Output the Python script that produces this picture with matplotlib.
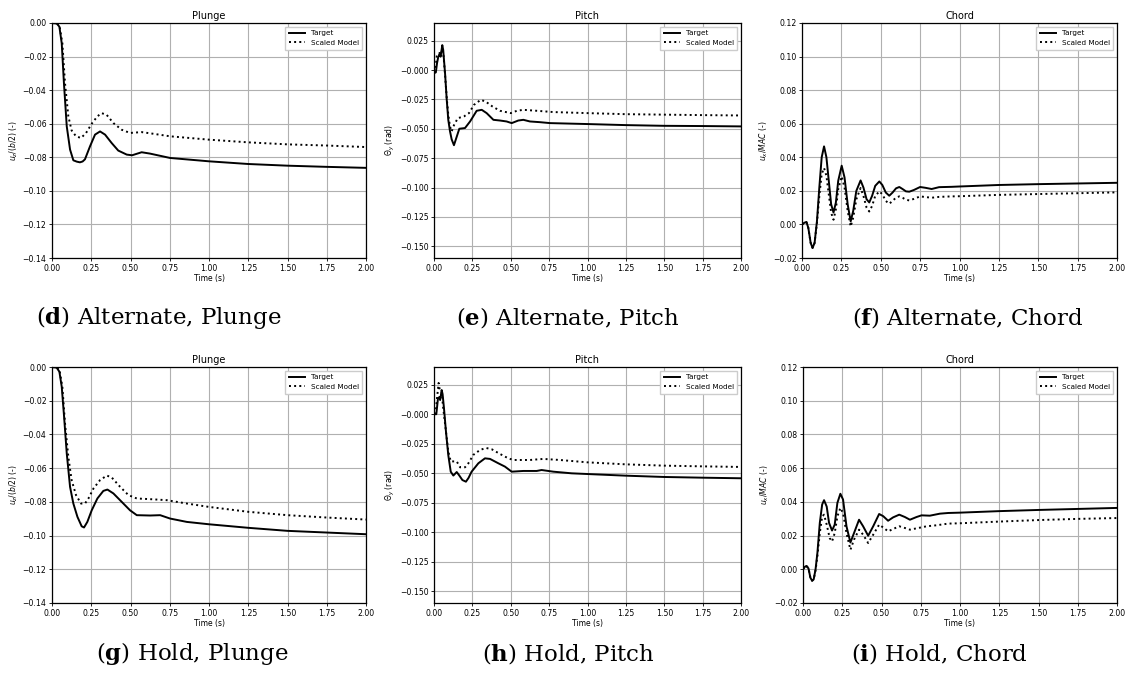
import numpy as np
import matplotlib
matplotlib.use("Agg")
import matplotlib.pyplot as plt

## Datos

tiempo_ticks = [0.0, 0.25, 0.5, 0.75, 1.0, 1.25, 1.5, 1.75, 2.0]
leyenda = ["Target", "Scaled Model"]

# (d) Alternate, Plunge
t_d_target = [0.0, 0.03, 0.047, 0.062, 0.076, 0.094, 0.115, 0.136, 0.158, 0.178, 0.195, 0.21, 0.242, 0.274,
              0.306, 0.338, 0.38, 0.422, 0.476, 0.51, 0.571, 0.624, 0.752, 1.0, 1.25, 1.5, 1.75, 2.0]
d_target = [0.0, -0.0003, -0.0022, -0.0121, -0.0358, -0.0616, -0.0754, -0.0818, -0.0826, -0.083, -0.0825,
            -0.0812, -0.0735, -0.0665, -0.0646, -0.0665, -0.0715, -0.076, -0.0784, -0.0788, -0.077, -0.0778,
            -0.0804, -0.0824, -0.084, -0.085, -0.0857, -0.0863]
t_d_model = [0.0, 0.03, 0.047, 0.066, 0.083, 0.104, 0.125, 0.153, 0.185, 0.217, 0.253, 0.289, 0.316, 0.348,
             0.391, 0.444, 0.497, 0.571, 0.646, 0.752, 1.0, 1.25, 1.5, 1.75, 2.0]
d_model = [0.0, -0.0002, -0.0012, -0.012, -0.036, -0.0556, -0.064, -0.0675, -0.0685, -0.0655, -0.06, -0.0556,
           -0.0537, -0.0547, -0.0596, -0.0636, -0.0655, -0.065, -0.066, -0.0675, -0.0695, -0.0711, -0.0723,
           -0.073, -0.0739]

# (e) Alternate, Pitch
t_e_target = [0.004, 0.012, 0.02, 0.028, 0.037, 0.043, 0.054, 0.06, 0.072, 0.083, 0.093, 0.104, 0.115, 0.13,
              0.145, 0.165, 0.202, 0.235, 0.278, 0.311, 0.343, 0.387, 0.43, 0.473, 0.506, 0.549, 0.582, 0.625,
              0.69, 0.756, 1.0, 1.25, 1.5, 1.75, 2.0]
e_target = [-0.0025, -0.002, 0.006, 0.0113, 0.014, 0.0113, 0.0212, 0.017, -0.0028, -0.0254, -0.0424, -0.052,
            -0.059, -0.064, -0.058, -0.050, -0.0494, -0.0438, -0.0347, -0.0339, -0.0367, -0.0424, -0.043,
            -0.0438, -0.0452, -0.043, -0.0424, -0.0438, -0.0444, -0.0452, -0.046, -0.0469, -0.0475, -0.0477,
            -0.048]
t_e_model = [0.004, 0.012, 0.018, 0.028, 0.037, 0.045, 0.054, 0.062, 0.072, 0.083, 0.093, 0.104, 0.115, 0.13,
             0.155, 0.195, 0.228, 0.26, 0.304, 0.336, 0.38, 0.43, 0.5, 0.54, 0.582, 0.669, 0.777, 1.0, 1.25,
             1.5, 1.75, 2.0]
e_model = [-0.0025, 0.004, 0.012, 0.014, 0.0145, 0.013, 0.018, 0.012, -0.004, -0.024, -0.038, -0.048, -0.0523,
           -0.047, -0.041, -0.0395, -0.0367, -0.0297, -0.0254, -0.0268, -0.031, -0.0347, -0.0367, -0.0347,
           -0.0339, -0.0347, -0.0358, -0.0367, -0.0376, -0.038, -0.0384, -0.0387]

# (f) Alternate, Chord
t_f = [0.0, 0.015, 0.028, 0.04, 0.055, 0.067, 0.08, 0.095, 0.11, 0.125, 0.14, 0.155, 0.17, 0.185, 0.2, 0.215,
       0.23, 0.252, 0.27, 0.29, 0.309, 0.325, 0.345, 0.372, 0.39, 0.41, 0.427, 0.445, 0.465, 0.491, 0.51, 0.532,
       0.554, 0.575, 0.597, 0.618, 0.64, 0.66, 0.681, 0.71, 0.75, 0.785, 0.823, 0.87, 0.95, 1.0, 1.25, 1.5,
       1.75, 2.0]
f_target = [0.0, 0.001, 0.0015, -0.002, -0.011, -0.014, -0.011, 0.002, 0.022, 0.040, 0.0465, 0.040, 0.026,
            0.012, 0.0071, 0.013, 0.026, 0.035, 0.028, 0.012, 0.0018, 0.008, 0.020, 0.0262, 0.022, 0.015,
            0.0131, 0.017, 0.023, 0.0256, 0.0235, 0.019, 0.0171, 0.019, 0.0215, 0.0223, 0.021, 0.0197, 0.0195,
            0.0205, 0.0223, 0.0218, 0.0211, 0.0222, 0.0224, 0.0226, 0.0235, 0.024, 0.0244, 0.0248]
f_model = [0.0, 0.001, 0.0015, -0.002, -0.011, -0.014, -0.011, 0.001, 0.017, 0.030, 0.0336, 0.029, 0.018,
           0.007, 0.0028, 0.009, 0.021, 0.0286, 0.022, 0.008, -0.0012, 0.004, 0.015, 0.0217, 0.017, 0.010,
           0.0077, 0.011, 0.017, 0.0197, 0.018, 0.014, 0.0123, 0.014, 0.016, 0.0167, 0.0158, 0.0147, 0.0143,
           0.0152, 0.0167, 0.0163, 0.0159, 0.0164, 0.0167, 0.0168, 0.0176, 0.0181, 0.0186, 0.0191]

# (g) Hold, Plunge
t_g_target = [0.0, 0.03, 0.047, 0.062, 0.077, 0.094, 0.115, 0.136, 0.162, 0.189, 0.204, 0.225, 0.253, 0.289,
              0.327, 0.353, 0.391, 0.444, 0.497, 0.54, 0.625, 0.689, 0.752, 0.859, 1.0, 1.25, 1.5, 1.75, 2.0]
g_target = [0.0, -0.0004, -0.0028, -0.0117, -0.0295, -0.0513, -0.0711, -0.081, -0.0889, -0.0945, -0.0952,
            -0.0919, -0.085, -0.078, -0.0735, -0.0727, -0.075, -0.08, -0.085, -0.0879, -0.0881, -0.0879,
            -0.0899, -0.0919, -0.0933, -0.0954, -0.0972, -0.0982, -0.0992]
t_g_model = [0.0, 0.03, 0.047, 0.066, 0.083, 0.104, 0.125, 0.153, 0.185, 0.21, 0.232, 0.264, 0.306, 0.349,
             0.38, 0.434, 0.487, 0.54, 0.625, 0.731, 0.859, 1.0, 1.25, 1.5, 1.75, 2.0]
g_model = [0.0, -0.0003, -0.0014, -0.0117, -0.0335, -0.0533, -0.0671, -0.076, -0.081, -0.081, -0.078,
           -0.0721, -0.0671, -0.0644, -0.0655, -0.0711, -0.076, -0.078, -0.0784, -0.079, -0.081, -0.083,
           -0.0859, -0.0879, -0.0893, -0.0905]

# (h) Hold, Pitch
t_h_target = [0.004, 0.015, 0.02, 0.026, 0.035, 0.04, 0.05, 0.056, 0.065, 0.078, 0.093, 0.109, 0.126, 0.137,
              0.148, 0.165, 0.185, 0.208, 0.225, 0.245, 0.289, 0.332, 0.365, 0.419, 0.462, 0.506, 0.582, 0.669,
              0.701, 0.777, 0.897, 1.0, 1.25, 1.5, 1.75, 2.0]
h_target = [0.0, 0.0, 0.006, 0.0135, 0.0145, 0.012, 0.0205, 0.017, 0.0051, -0.0148, -0.0346, -0.0487, -0.052,
            -0.0505, -0.049, -0.052, -0.0558, -0.0572, -0.054, -0.0487, -0.0416, -0.0374, -0.0379, -0.0416,
            -0.0444, -0.0487, -0.0481, -0.0481, -0.0473, -0.0487, -0.0501, -0.0507, -0.0521, -0.0532, -0.0538,
            -0.0543]
t_h_model = [0.004, 0.012, 0.02, 0.03, 0.037, 0.045, 0.05, 0.058, 0.078, 0.093, 0.109, 0.148, 0.17, 0.202,
             0.224, 0.256, 0.3, 0.339, 0.376, 0.43, 0.484, 0.517, 0.625, 0.712, 0.82, 1.0, 1.25, 1.5, 1.75, 2.0]
h_model = [0.0, 0.003, 0.014, 0.0265, 0.021, 0.019, 0.019, 0.0075, -0.0148, -0.0316, -0.040, -0.040, -0.045,
           -0.045, -0.0416, -0.0345, -0.0303, -0.0286, -0.0297, -0.0337, -0.0374, -0.0388, -0.0388, -0.0379,
           -0.0388, -0.0408, -0.0425, -0.0436, -0.0442, -0.0447]

# (i) Hold, Chord
t_i_target = [0.0, 0.012, 0.022, 0.035, 0.047, 0.058, 0.068, 0.08, 0.092, 0.107, 0.122, 0.134, 0.151, 0.166,
              0.185, 0.202, 0.219, 0.238, 0.255, 0.277, 0.302, 0.325, 0.357, 0.383, 0.415, 0.447, 0.485, 0.511,
              0.542, 0.574, 0.613, 0.649, 0.681, 0.723, 0.755, 0.808, 0.872, 0.925, 1.0, 1.25, 1.5, 1.75, 2.0]
i_target = [0.0, 0.0015, 0.002, 0.0005, -0.005, -0.0068, -0.006, 0.0, 0.010, 0.0275, 0.0384, 0.041, 0.0372,
            0.0275, 0.023, 0.0265, 0.0394, 0.0448, 0.0414, 0.0255, 0.0159, 0.0215, 0.0294, 0.0255, 0.0199,
            0.0255, 0.0328, 0.0315, 0.0288, 0.0308, 0.0324, 0.031, 0.0294, 0.031, 0.032, 0.0318, 0.033, 0.0334,
            0.0336, 0.0345, 0.0352, 0.0358, 0.0364]
t_i_model = [0.0, 0.012, 0.022, 0.035, 0.047, 0.058, 0.068, 0.08, 0.092, 0.107, 0.122, 0.134, 0.151, 0.17,
             0.185, 0.202, 0.219, 0.238, 0.255, 0.277, 0.302, 0.325, 0.357, 0.383, 0.415, 0.447, 0.485, 0.515,
             0.542, 0.574, 0.613, 0.649, 0.681, 0.734, 0.787, 0.85, 0.925, 1.0, 1.25, 1.5, 1.75, 2.0]
i_model = [0.0, 0.0015, 0.002, 0.0005, -0.005, -0.0068, -0.006, -0.0005, 0.008, 0.0215, 0.0314, 0.0324, 0.0265,
           0.0185, 0.0165, 0.0215, 0.0314, 0.0364, 0.0334, 0.0215, 0.0116, 0.0176, 0.0235, 0.0205, 0.0156,
           0.0205, 0.0265, 0.0245, 0.0225, 0.0239, 0.0255, 0.0245, 0.0235, 0.0245, 0.0255, 0.0261, 0.0271,
           0.0273, 0.0283, 0.0292, 0.0299, 0.0304]

## Configuración de cada panel

paneles = [
    ("d", "Alternate, Plunge", "Plunge", r"$u_z/(b/2)$ (-)", t_d_target, d_target, t_d_model, d_model),
    ("e", "Alternate, Pitch", "Pitch", r"$\Theta_y$ (rad)", t_e_target, e_target, t_e_model, e_model),
    ("f", "Alternate, Chord", "Chord", r"$u_x/MAC$ (-)", t_f, f_target, t_f, f_model),
    ("g", "Hold, Plunge", "Plunge", r"$u_z/(b/2)$ (-)", t_g_target, g_target, t_g_model, g_model),
    ("h", "Hold, Pitch", "Pitch", r"$\Theta_y$ (rad)", t_h_target, h_target, t_h_model, h_model),
    ("i", "Hold, Chord", "Chord", r"$u_x/MAC$ (-)", t_i_target, i_target, t_i_model, i_model),
]

limites_y = {"Plunge": (-0.14, 0.0), "Pitch": (-0.16, 0.04), "Chord": (-0.02, 0.12)}
ticks_y = {
    "Plunge": (np.arange(-0.14, 0.001, 0.02), "{:.2f}"),
    "Pitch": (np.arange(-0.15, 0.026, 0.025), "{:.3f}"),
    "Chord": (np.arange(-0.02, 0.121, 0.02), "{:.2f}"),
}

W, H = 1129, 673
# posiciones en pixeles: izquierda, derecha, arriba, abajo
cajas = [
    (52, 366, 23, 258), (434, 741, 23, 258), (802, 1117, 23, 258),
    (52, 366, 367, 603), (434, 741, 367, 603), (803, 1117, 367, 603),
]
centros_caption = [(159, 324), (568, 324), (968, 324), (192, 660), (568, 660), (939, 660)]

fig = plt.figure(figsize=(W / 100, H / 100), dpi=100)

for k, (letra, caption, titulo, ylab, tt, yt, tm, ym) in enumerate(paneles):
    x0, x1, y0, y1 = cajas[k]
    ax = fig.add_axes([x0 / W, 1 - y1 / H, (x1 - x0) / W, (y1 - y0) / H])
    ax.plot(tt, yt, color="black", lw=1.4, ls="-", label=leyenda[0])
    ax.plot(tm, ym, color="black", lw=1.4, ls=":", label=leyenda[1])
    ax.set_xlim(0, 2)
    ax.set_ylim(*limites_y[titulo])
    ax.set_xticks(tiempo_ticks)
    ax.set_xticklabels(["{:.2f}".format(v) for v in tiempo_ticks])
    yv, fmt = ticks_y[titulo]
    ax.set_yticks(yv)
    ax.set_yticklabels([fmt.format(v).replace("-", "\u2212") for v in yv])
    ax.grid(True, color="#b0b0b0", lw=0.8)
    ax.tick_params(labelsize=5.6, length=2.5, width=0.6, pad=1.5)
    ax.set_title(titulo, fontsize=7, pad=3)
    ax.set_xlabel("Time (s)", fontsize=5.5, labelpad=1)
    ax.set_ylabel(ylab, fontsize=5.5, labelpad=2)
    for s in ax.spines.values():
        s.set_linewidth(0.9)
    ax.legend(loc="upper right", fontsize=5.2, fancybox=False, edgecolor="#cccccc",
              framealpha=1, handlelength=2.2, borderpad=0.5)
    cx, cy = centros_caption[k]
    fig.text(cx / W, 1 - cy / H, r"($\mathbf{" + letra + r"}$) " + caption,
             ha="center", va="baseline", fontsize=16.5, family="DejaVu Serif",
             math_fontfamily="dejavuserif")

plt.savefig("out.png", dpi=100)
